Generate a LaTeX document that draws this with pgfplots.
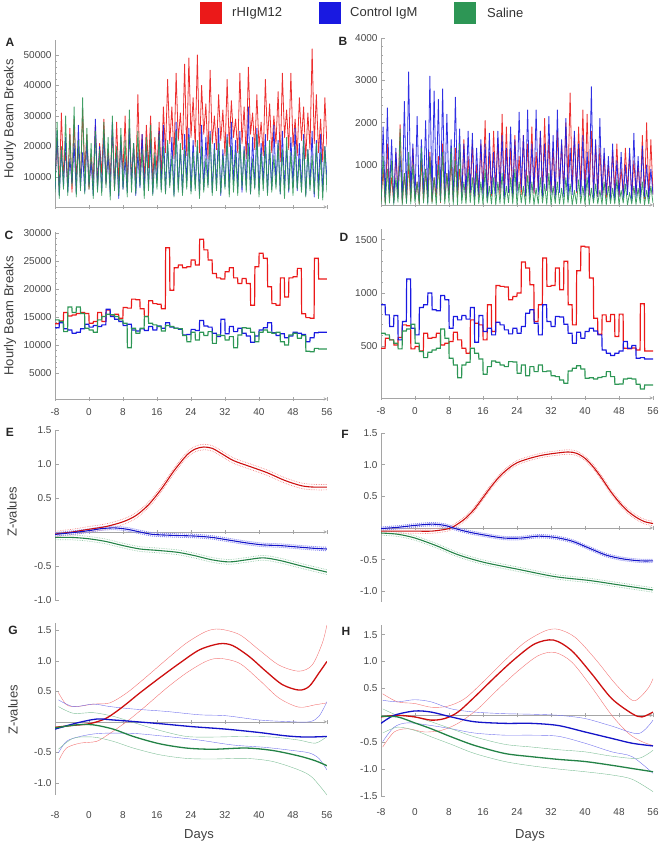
\documentclass[border=0pt]{standalone}
\usepackage{fontspec}
\setmainfont{Liberation Sans}
\usepackage{pgfplots}
\usepackage{pgfplotstable}
\pgfplotsset{compat=1.18}

\definecolor{cr}{RGB}{235,25,25}
\definecolor{cb}{RGB}{25,25,225}
\definecolor{cg}{RGB}{45,150,85}
\definecolor{dr}{RGB}{205,15,15}
\definecolor{db}{RGB}{20,20,200}
\definecolor{dg}{RGB}{35,130,70}
\definecolor{axgray}{RGB}{165,165,165}
\definecolor{labgray}{RGB}{70,70,70}

\pgfplotsset{
  mma/.style={
    scale only axis, width=272pt,
    xmin=-8, xmax=56, xtick={-8,0,8,16,24,32,40,48,56},
    axis y line=left,
    axis line style={-, draw=axgray, line width=0.5pt},
    tick style={draw=axgray, line width=0.5pt},
    tick align=inside,
    major tick length=4pt, minor tick length=2pt,
    minor y tick num=4,
    tick label style={font=\fontsize{10}{12}\selectfont, text=labgray},
    scaled ticks=false,
  },
  raw/.style={mma, axis x line=bottom, xticklabels={}},
  daily/.style={mma, axis x line=bottom,
    xticklabels={-8,0,8,16,24,32,40,48,56}, xticklabel style={yshift=-4pt}},
  zax/.style={mma, axis x line=middle, xticklabels={}, hide obscured x ticks=false},
  hr/.style={draw=#1, line width=0.8pt, opacity=0.9, line join=round},
  st/.style={draw=#1, line width=1.2pt, sharp plot},
}

% hourly counts, panel A (trough / peak every half day)
\pgfplotstableread{
x r b g
-8 9000 6000 5000
-7.5 22000 25000 28000
-7 6000 4000 3000
-6.5 31000 19000 20000
-6 11000 7000 6000
-5.5 18000 23000 30000
-5 7000 5000 4000
-4.5 26000 16000 24000
-4 5000 8000 7000
-3.5 29000 21000 33000
-3 10000 4500 3500
-2.5 20000 27000 22000
-2 8000 6500 5500
-1.5 32000 18000 36000
-1 12000 5000 4500
-0.5 24000 22000 26000
0 6000 7500 6000
0.5 17000 15000 21000
1 9000 4000 3000
1.5 27000 29000 25000
2 7000 6000 5000
2.5 21000 20000 19000
3 11000 5500 4000
3.5 29000 24000 28000
4 8000 8000 6500
4.5 19000 17000 23000
5 10000 4500 2500
5.5 25000 28000 30000
6 6000 7000 5500
6.5 28000 19000 20000
7 9000 3000 4000
7.5 22000 23000 26000
8 12000 6000 6000
8.5 30000 16000 22000
9 7000 5000 3500
9.5 26000 26000 32000
10 10000 7500 5000
10.5 20000 21000 21000
11 8000 4000 4500
11.5 37000 18000 25000
12 11000 6500 7000
12.5 24000 24000 19000
13 9000 5500 3000
13.5 27000 20000 23000
14 13000 7000 5500
14.5 30000 22000 27000
15 8000 4500 4000
15.5 23000 17000 18000
16 12000 8000 6000
16.5 28000 25000 24000
17 10000 6000 5000
17.5 33000 27000 20000
18 18000 5000 4500
18.5 42000 21000 22000
19 21000 7500 6500
19.5 33000 23000 17000
20 16000 4000 3500
20.5 44000 28000 25000
21 22000 6500 5000
21.5 31000 19000 21000
22 19000 5000 4000
22.5 47000 24000 19000
23 17000 8000 6000
23.5 49000 26000 23000
24 23000 5500 4500
24.5 36000 22000 18000
25 20000 7000 5500
25.5 50000 20000 22000
26 18000 4500 3000
26.5 40000 27000 20000
27 24000 6000 5000
27.5 34000 23000 16000
28 16000 7500 6500
28.5 45000 25000 24000
29 21000 5000 4000
29.5 30000 21000 19000
30 19000 6500 5500
30.5 37000 26000 21000
31 22000 4000 4500
31.5 32000 19000 17000
32 17000 7000 6000
32.5 42000 24000 23000
33 20000 5500 3500
33.5 35000 28000 20000
34 23000 8000 5000
34.5 29000 22000 18000
35 18000 6000 4000
35.5 44000 25000 22000
36 21000 5000 6500
36.5 33000 20000 19000
37 16000 7000 5000
37.5 46000 33000 21000
38 24000 4500 4500
38.5 31000 23000 16000
39 19000 6500 6000
39.5 37000 26000 24000
40 20000 5500 3500
40.5 28000 21000 18000
41 17000 8000 5500
41.5 42000 24000 20000
42 22000 5000 4000
42.5 34000 19000 22000
43 18000 6000 5000
43.5 30000 27000 17000
44 21000 7500 6000
44.5 38000 22000 21000
45 15000 4500 4500
45.5 44000 25000 19000
46 23000 6500 3000
46.5 32000 20000 23000
47 19000 5000 5500
47.5 44000 23000 18000
48 20000 7000 4000
48.5 29000 26000 20000
49 17000 5500 6000
49.5 36000 21000 16000
50 22000 6000 5000
50.5 33000 24000 22000
51 16000 4000 3500
51.5 31000 19000 19000
52 19000 7000 5500
52.5 52000 25000 17000
53 21000 3500 4500
53.5 37000 22000 21000
54 18000 6000 3000
54.5 29000 24000 18000
55 15000 5000 2500
55.5 36000 20000 20000
56 20000 9000 5000
}\rawA

% hourly counts, panel B
\pgfplotstableread{
x r b g
-8 150 200 80
-7.5 900 1900 1200
-7 100 150 60
-6.5 1500 2350 900
-6 200 300 100
-5.5 700 1600 1100
-5 120 100 70
-4.5 1300 1400 700
-4 250 250 120
-3.5 1950 1200 1850
-3 100 180 60
-2.5 800 2500 800
-2 180 120 90
-1.5 1000 3200 1300
-1 150 300 80
-0.5 1400 1500 1000
0 220 200 110
0.5 600 2150 600
1 90 150 60
1.5 1100 1600 1400
2 160 280 100
2.5 900 2050 900
3 200 100 70
3.5 1300 3100 1200
4 130 220 90
4.5 700 2750 700
5 250 350 60
5.5 1200 2550 1000
6 110 150 120
6.5 1500 2800 1300
7 180 250 80
7.5 800 2200 800
8 300 300 100
8.5 1100 1600 1400
9 150 180 70
9.5 1400 2600 1100
10 220 400 60
10.5 900 1850 1500
11 260 220 90
11.5 1600 1500 600
12 180 280 80
12.5 1200 1800 900
13 300 350 110
13.5 1500 1750 700
14 200 200 60
14.5 1000 1400 800
15 250 300 90
15.5 1500 1600 600
16 350 250 70
16.5 2050 1500 900
17 220 150 100
17.5 1300 1750 500
18 280 320 80
18.5 1800 1300 700
19 400 280 60
19.5 1600 1800 600
20 250 400 90
20.5 2200 1700 800
21 300 200 70
21.5 1900 1400 500
22 350 350 110
22.5 1400 1900 700
23 280 250 80
23.5 1700 1600 900
24 420 300 60
24.5 1200 2250 600
25 300 420 100
25.5 1700 1700 500
26 260 280 70
26.5 1500 2300 750
27 380 200 90
27.5 1900 1500 600
28 320 350 60
28.5 1300 2300 450
29 450 300 80
29.5 1800 1800 700
30 300 250 100
30.5 2100 1500 550
31 400 400 70
31.5 1600 2150 800
32 350 300 60
32.5 1400 1700 500
33 280 200 90
33.5 1800 2300 600
34 500 350 80
34.5 1500 1600 450
35 380 250 70
35.5 2000 2100 700
36 600 180 100
36.5 2700 1400 550
37 450 300 60
37.5 1700 1800 400
38 350 380 80
38.5 1900 1500 650
39 400 250 90
39.5 2300 1700 500
40 300 200 70
40.5 2200 1300 700
41 280 300 60
41.5 1800 2850 450
42 350 150 100
42.5 1500 1600 550
43 250 250 80
43.5 1400 2100 400
44 300 200 70
44.5 1200 1400 600
45 220 300 60
45.5 1000 1200 500
46 280 180 90
46.5 1300 1500 450
47 350 150 80
47.5 1500 1100 650
48 250 250 70
48.5 900 1300 400
49 300 200 100
49.5 1400 1000 550
50 400 300 60
50.5 1200 1400 350
51 260 150 80
51.5 1100 1750 500
52 320 220 70
52.5 1000 1200 450
53 280 180 90
53.5 1700 1450 600
54 200 250 60
54.5 2000 1000 400
55 250 200 80
55.5 1600 900 500
56 300 300 100
}\rawB

% daily means, panel C (each day's value held across the day)
\pgfplotstableread{
x r b g
-8 13800 13100 14500
-7.04 13800 13100 14500
-6.96 14300 14000 14200
-6.04 14300 14000 14200
-5.96 15800 12900 12400
-5.04 15800 12900 12400
-4.96 15200 12700 16800
-4.04 15200 12700 16800
-3.96 15350 12100 15800
-3.04 15350 12100 15800
-2.96 15650 12300 16800
-2.04 15650 12300 16800
-1.96 15800 12900 15650
-1.04 15800 12900 15650
-0.96 15650 13700 13000
-0.04 15650 13700 13000
0.04 13900 13200 12700
0.96 13900 13200 12700
1.04 14200 13500 12300
1.96 14200 13500 12300
2.04 15800 13300 14500
2.96 15800 13300 14500
3.04 14200 13600 15100
3.96 14200 13600 15100
4.04 16250 16400 15500
4.96 16250 16400 15500
5.04 15350 15100 15400
5.96 15350 15100 15400
6.04 15500 14600 15100
6.96 15500 14600 15100
7.04 14800 14200 14500
7.96 14800 14200 14500
8.04 16700 13500 13900
8.96 16700 13500 13900
9.04 16600 13700 9500
9.96 16600 13700 9500
10.04 18200 12700 13000
10.96 18200 12700 13000
11.04 18100 12500 12100
11.96 18100 12500 12100
12.04 16500 12900 13000
12.96 16500 12900 13000
13.04 15100 12600 15100
13.96 15100 12600 15100
14.04 17900 13300 13900
14.96 17900 13300 13900
15.04 17400 12700 13600
15.96 17400 12700 13600
16.04 17300 13400 13300
16.96 17300 13400 13300
17.04 16500 13000 12500
17.96 16500 13000 12500
18.04 27400 14000 13500
18.96 27400 14000 13500
19.04 19800 13200 13300
19.96 19800 13200 13300
20.04 23800 13000 13000
20.96 23800 13000 13000
21.04 24300 12800 12900
21.96 24300 12800 12900
22.04 23800 11800 11700
22.96 23800 11800 11700
23.04 24000 11900 10600
23.96 24000 11900 10600
24.04 25200 12800 12300
24.96 25200 12800 12300
25.04 24300 12600 10900
25.96 24300 12600 10900
26.04 28900 14400 12300
26.96 28900 14400 12300
27.04 27000 13400 11700
27.96 27000 13400 11700
28.04 25200 13200 12400
28.96 25200 13200 12400
29.04 22800 12100 10300
29.96 22800 12100 10300
30.04 22000 11500 11800
30.96 22000 11500 11800
31.04 21800 14600 11700
31.96 21800 14600 11700
32.04 23100 12000 10900
32.96 23100 12000 10900
33.04 23800 13300 11500
33.96 23800 13300 11500
34.04 22000 12400 9500
34.96 22000 12400 9500
35.04 21000 13000 11800
35.96 21000 13000 11800
36.04 21900 12100 13100
36.96 21900 12100 13100
37.04 21000 11600 13000
37.96 21000 11600 13000
38.04 17100 10500 12300
38.96 17100 10500 12300
39.04 24000 11600 10600
39.96 24000 11600 10600
40.04 26400 12700 12300
40.96 26400 12700 12300
41.04 25500 13100 12700
41.96 25500 13100 12700
42.04 20400 14000 12300
42.96 20400 14000 12300
43.04 17400 12200 12100
43.96 17400 12200 12100
44.04 17100 11700 12300
44.96 17100 11700 12300
45.04 22000 12000 10600
45.96 22000 12000 10600
46.04 18600 11300 10000
46.96 18600 11300 10000
47.04 22000 11600 11800
47.96 22000 11600 11800
48.04 22200 12300 12100
48.96 22200 12300 12100
49.04 23700 12100 11200
49.96 23700 12100 11200
50.04 15600 11900 11700
50.96 15600 11900 11700
51.04 14900 10600 8900
51.96 14900 10600 8900
52.04 14800 11300 8800
52.96 14800 11300 8800
53.04 25500 12200 9400
53.96 25500 12200 9400
54.04 21800 12300 9300
56 21800 12300 9300
}\dayC

% daily means, panel D
\pgfplotstableread{
x r b g
-8 478 887 620
-7.04 478 887 620
-6.96 572 792 604
-6.04 572 792 604
-5.96 557 682 557
-5.04 557 682 557
-4.96 509 786 525
-4.04 509 786 525
-3.96 579 557 472
-3.04 579 557 472
-2.96 698 730 641
-2.04 698 730 641
-1.96 690 1129 660
-1.04 690 1129 660
-0.96 472 667 704
-0.04 472 667 704
0.04 494 604 525
0.96 494 604 525
1.04 453 862 447
1.96 453 862 447
2.04 620 887 390
2.96 620 887 390
3.04 572 997 440
3.96 572 997 440
4.04 579 840 462
4.96 579 840 462
5.04 620 830 478
5.96 620 830 478
6.04 509 975 660
6.96 509 975 660
7.04 525 934 572
7.96 525 934 572
8.04 541 667 384
8.96 541 667 384
9.04 629 777 321
9.96 629 777 321
10.04 557 745 201
10.96 557 745 201
11.04 478 786 321
11.96 478 786 321
12.04 431 752 346
12.96 431 752 346
13.04 745 862 478
13.96 745 862 478
14.04 714 535 431
14.96 714 535 431
15.04 698 786 377
15.96 698 786 377
16.04 557 635 233
16.96 557 635 233
17.04 887 667 305
17.96 887 667 305
18.04 635 604 358
18.96 635 604 358
19.04 1069 723 346
19.96 1069 723 346
20.04 1060 698 321
20.96 1060 698 321
21.04 1055 651 305
21.96 1055 651 305
22.04 934 613 352
22.96 934 613 352
23.04 965 667 348
23.96 965 667 348
24.04 997 620 242
24.96 997 620 242
25.04 1289 682 321
25.96 1289 682 321
26.04 1233 808 220
26.96 1233 808 220
27.04 1076 840 305
27.96 1076 840 305
28.04 730 714 258
28.96 730 714 258
29.04 887 604 321
29.96 887 604 321
30.04 1327 887 258
30.96 1327 887 258
31.04 1060 730 264
31.96 1060 730 264
32.04 1069 682 220
32.96 1069 682 220
33.04 1233 777 211
33.96 1233 777 211
34.04 1028 772 179
34.96 1028 772 179
35.04 1296 704 148
35.96 1296 704 148
36.04 887 620 264
36.96 887 620 264
37.04 698 525 289
37.96 698 525 289
38.04 1208 629 314
38.96 1208 629 314
39.04 1437 572 283
39.96 1437 572 283
40.04 1430 635 195
40.96 1430 635 195
41.04 1138 667 201
41.96 1138 667 201
42.04 761 641 189
42.96 761 641 189
43.04 610 604 203
43.96 610 604 203
44.04 792 462 211
44.96 792 462 211
45.04 730 431 258
45.96 730 431 258
46.04 795 409 211
46.96 795 409 211
47.04 588 431 139
47.96 588 431 139
48.04 799 453 142
48.96 799 453 142
49.04 478 541 189
49.96 478 541 189
50.04 472 478 195
50.96 472 478 195
51.04 480 503 189
51.96 480 503 189
52.04 462 384 139
52.96 462 384 139
53.04 896 390 94
53.96 896 390 94
54.04 453 377 132
56 453 377 132
}\dayD

\begin{document}
\begin{tikzpicture}
\useasboundingbox (0,0) rectangle (660pt,845pt);

% legend
\fill[cr] (200pt,821pt) rectangle (222pt,843pt);
\fill[cb] (319pt,821pt) rectangle (341pt,843pt);
\fill[cg] (454pt,821pt) rectangle (476pt,843pt);
\begin{scope}[every node/.style={anchor=west, inner sep=0pt, font=\fontsize{13}{15}\selectfont, text=black!80}]
\node at (232pt,832pt) {rHIgM12};
\node at (350pt,832pt) {Control IgM};
\node at (487pt,832pt) {Saline};
\end{scope}

% A
\begin{axis}[raw, at={(55pt,638pt)}, anchor=south west, height=167pt,
  ymin=200, ymax=54900, ytick={10000,20000,30000,40000,50000},
  yticklabels={10000,20000,30000,40000,50000}]
\addplot[hr=cr] table[x=x,y=r]{\rawA};
\addplot[hr=cb] table[x=x,y=b]{\rawA};
\addplot[hr=cg] table[x=x,y=g]{\rawA};
\end{axis}

% B
\begin{axis}[raw, at={(381pt,640pt)}, anchor=south west, height=167pt,
  ymin=55, ymax=4000, ytick={1000,2000,3000,4000},
  yticklabels={1000,2000,3000,4000}]
\addplot[hr=cr] table[x=x,y=r]{\rawB};
\addplot[hr=cb] table[x=x,y=b]{\rawB};
\addplot[hr=cg] table[x=x,y=g]{\rawB};
\end{axis}

% C
\begin{axis}[daily, at={(55pt,446pt)}, anchor=south west, height=167pt,
  ymin=360, ymax=30200, ytick={5000,10000,15000,20000,25000,30000},
  yticklabels={5000,10000,15000,20000,25000,30000}]
\addplot[st=cr] table[x=x,y=r]{\dayC};
\addplot[st=cb] table[x=x,y=b]{\dayC};
\addplot[st=cg] table[x=x,y=g]{\dayC};
\end{axis}

% D
\begin{axis}[daily, at={(381pt,447pt)}, anchor=south west, height=169pt,
  ymin=10, ymax=1600, ytick={500,1000,1500}, yticklabels={500,1000,1500}]
\addplot[st=cr] table[x=x,y=r]{\dayD};
\addplot[st=cb] table[x=x,y=b]{\dayD};
\addplot[st=cg] table[x=x,y=g]{\dayD};
\end{axis}

% E
\begin{axis}[zax, at={(55pt,245pt)}, anchor=south west, height=170pt,
  ymin=-1, ymax=1.5, ytick={-1,-0.5,0.5,1,1.5},
  yticklabels={-1.0,-0.5,0.5,1.0,1.5}]
\addplot[cr!50, densely dotted, line width=0.7pt, smooth] coordinates {(-8,0.01) (-4,0.04) (0,0.08) (4,0.12) (8,0.19) (11,0.28) (14,0.44) (17,0.67) (20,0.94) (23,1.17) (25,1.26) (27,1.29) (29,1.27) (31,1.2) (34,1.09) (38,1.0) (42,0.91) (46,0.8) (50,0.72) (53,0.7) (56,0.7)};
\addplot[cr!50, densely dotted, line width=0.7pt, smooth] coordinates {(-8,-0.07) (-4,-0.04) (0,0.0) (4,0.04) (8,0.11) (11,0.2) (14,0.36) (17,0.59) (20,0.86) (23,1.09) (25,1.18) (27,1.21) (29,1.19) (31,1.12) (34,1.01) (38,0.92) (42,0.83) (46,0.72) (50,0.64) (53,0.62) (56,0.62)};
\addplot[cb!50, densely dotted, line width=1pt, smooth] coordinates {(-8,-0.01) (-4,0.015) (0,0.045) (3,0.075) (6,0.085) (9,0.065) (12,0.025) (15,-0.01) (20,-0.025) (25,-0.035) (29,-0.055) (33,-0.095) (37,-0.135) (41,-0.165) (45,-0.175) (49,-0.195) (53,-0.215) (56,-0.225)};
\addplot[cb!50, densely dotted, line width=1pt, smooth] coordinates {(-8,-0.06) (-4,-0.035) (0,-0.005) (3,0.025) (6,0.035) (9,0.015) (12,-0.025) (15,-0.06) (20,-0.075) (25,-0.085) (29,-0.105) (33,-0.145) (37,-0.185) (41,-0.215) (45,-0.225) (49,-0.245) (53,-0.265) (56,-0.275)};
\addplot[cg!50, densely dotted, line width=0.7pt, smooth] coordinates {(-8,-0.045) (-4,-0.045) (0,-0.065) (4,-0.105) (8,-0.165) (12,-0.215) (16,-0.235) (21,-0.265) (25,-0.315) (29,-0.375) (33,-0.405) (37,-0.375) (41,-0.345) (45,-0.385) (50,-0.465) (56,-0.555)};
\addplot[cg!50, densely dotted, line width=0.7pt, smooth] coordinates {(-8,-0.115) (-4,-0.115) (0,-0.135) (4,-0.175) (8,-0.235) (12,-0.285) (16,-0.305) (21,-0.335) (25,-0.385) (29,-0.445) (33,-0.475) (37,-0.445) (41,-0.415) (45,-0.455) (50,-0.535) (56,-0.625)};
\addplot[dr, line width=1.1pt, smooth] coordinates {(-8,-0.03) (-4,0.0) (0,0.04) (4,0.08) (8,0.15) (11,0.24) (14,0.4) (17,0.63) (20,0.9) (23,1.13) (25,1.22) (27,1.25) (29,1.23) (31,1.16) (34,1.05) (38,0.96) (42,0.87) (46,0.76) (50,0.68) (53,0.66) (56,0.66)};
\addplot[db, line width=1.1pt, smooth] coordinates {(-8,-0.035) (-4,-0.01) (0,0.02) (3,0.05) (6,0.06) (9,0.04) (12,0.0) (15,-0.035) (20,-0.05) (25,-0.06) (29,-0.08) (33,-0.12) (37,-0.16) (41,-0.19) (45,-0.2) (49,-0.22) (53,-0.24) (56,-0.25)};
\addplot[dg, line width=1.1pt, smooth] coordinates {(-8,-0.08) (-4,-0.08) (0,-0.1) (4,-0.14) (8,-0.2) (12,-0.25) (16,-0.27) (21,-0.3) (25,-0.35) (29,-0.41) (33,-0.44) (37,-0.41) (41,-0.38) (45,-0.42) (50,-0.5) (56,-0.59)};
\end{axis}

% F
\begin{axis}[zax, at={(381pt,243pt)}, anchor=south west, height=169pt,
  ymin=-1.17, ymax=1.5, ytick={-1,-0.5,0.5,1,1.5},
  yticklabels={-1.0,-0.5,0.5,1.0,1.5}]
\addplot[cr!50, densely dotted, line width=0.7pt, smooth] coordinates {(-8,-0.015) (-4,-0.015) (0,-0.015) (4,-0.015) (8,0.025) (10,0.095) (12,0.195) (14,0.335) (16,0.515) (18,0.695) (20,0.855) (22,0.975) (24,1.065) (27,1.135) (30,1.185) (33,1.215) (36,1.235) (38,1.215) (40,1.135) (42,0.995) (44,0.815) (46,0.615) (48,0.445) (50,0.305) (52,0.205) (54,0.135) (56,0.105)};
\addplot[cr!50, densely dotted, line width=0.7pt, smooth] coordinates {(-8,-0.085) (-4,-0.085) (0,-0.085) (4,-0.085) (8,-0.045) (10,0.025) (12,0.125) (14,0.265) (16,0.445) (18,0.625) (20,0.785) (22,0.905) (24,0.995) (27,1.065) (30,1.115) (33,1.145) (36,1.165) (38,1.145) (40,1.065) (42,0.925) (44,0.745) (46,0.545) (48,0.375) (50,0.235) (52,0.135) (54,0.065) (56,0.035)};
\addplot[cb!50, densely dotted, line width=1pt, smooth] coordinates {(-8,0.015) (-4,0.035) (0,0.065) (4,0.085) (7,0.065) (10,0.005) (13,-0.045) (17,-0.095) (21,-0.135) (25,-0.135) (29,-0.105) (33,-0.125) (37,-0.185) (41,-0.295) (45,-0.405) (49,-0.465) (53,-0.495) (56,-0.495)};
\addplot[cb!50, densely dotted, line width=1pt, smooth] coordinates {(-8,-0.035) (-4,-0.015) (0,0.015) (4,0.035) (7,0.015) (10,-0.045) (13,-0.095) (17,-0.145) (21,-0.185) (25,-0.185) (29,-0.155) (33,-0.175) (37,-0.235) (41,-0.345) (45,-0.455) (49,-0.515) (53,-0.545) (56,-0.545)};
\addplot[cg!50, densely dotted, line width=0.7pt, smooth] coordinates {(-8,-0.045) (-4,-0.065) (0,-0.125) (5,-0.245) (10,-0.385) (16,-0.505) (24,-0.615) (33,-0.735) (41,-0.795) (48,-0.865) (56,-0.945)};
\addplot[cg!50, densely dotted, line width=0.7pt, smooth] coordinates {(-8,-0.115) (-4,-0.135) (0,-0.195) (5,-0.315) (10,-0.455) (16,-0.575) (24,-0.685) (33,-0.805) (41,-0.865) (48,-0.935) (56,-1.015)};
\addplot[dr, line width=1.1pt, smooth] coordinates {(-8,-0.05) (-4,-0.05) (0,-0.05) (4,-0.05) (8,-0.01) (10,0.06) (12,0.16) (14,0.3) (16,0.48) (18,0.66) (20,0.82) (22,0.94) (24,1.03) (27,1.1) (30,1.15) (33,1.18) (36,1.2) (38,1.18) (40,1.1) (42,0.96) (44,0.78) (46,0.58) (48,0.41) (50,0.27) (52,0.17) (54,0.1) (56,0.07)};
\addplot[db, line width=1.1pt, smooth] coordinates {(-8,-0.01) (-4,0.01) (0,0.04) (4,0.06) (7,0.04) (10,-0.02) (13,-0.07) (17,-0.12) (21,-0.16) (25,-0.16) (29,-0.13) (33,-0.15) (37,-0.21) (41,-0.32) (45,-0.43) (49,-0.49) (53,-0.52) (56,-0.52)};
\addplot[dg, line width=1.1pt, smooth] coordinates {(-8,-0.08) (-4,-0.1) (0,-0.16) (5,-0.28) (10,-0.42) (16,-0.54) (24,-0.65) (33,-0.77) (41,-0.83) (48,-0.9) (56,-0.98)};
\end{axis}

% G
\begin{axis}[zax, at={(55pt,50pt)}, anchor=south west, height=172pt,
  ymin=-1.2, ymax=1.62, ytick={-1,-0.5,0.5,1,1.5},
  yticklabels={-1.0,-0.5,0.5,1.0,1.5},
  xticklabels={-8,0,8,16,24,32,40,48,56}, xticklabel style={yshift=-84pt}]
\addplot[cr!60, line width=0.4pt, smooth] coordinates {(-7.2,0.48) (-5.3,0.28) (-2.9,0.25) (1,0.29) (4.9,0.31) (8.8,0.47) (12.7,0.69) (18.2,1.02) (22.9,1.29) (27.5,1.48) (30.7,1.52) (35.4,1.43) (40,1.18) (44.7,0.93) (49.4,0.83) (52.5,0.93) (54.9,1.29) (56,1.59)};
\addplot[cr!60, line width=0.4pt, smooth] coordinates {(-7,-0.62) (-5.3,-0.43) (-2.1,-0.35) (1.8,-0.32) (4.9,-0.19) (8.8,0.0) (12.7,0.22) (18.2,0.55) (22.9,0.8) (27.5,0.99) (30.7,1.04) (35.4,0.96) (40,0.69) (44.7,0.39) (49.4,0.24) (53.3,0.28) (56,0.31)};
\addplot[cb!60, line width=0.4pt, smooth] coordinates {(-7.2,0.36) (-3.7,0.25) (1,0.29) (4.9,0.25) (10.4,0.21) (18.2,0.17) (26,0.115) (32.2,0.1) (40,0.03) (46.3,0.005) (51.8,0.0) (54.1,0.09) (56,0.33)};
\addplot[cb!60, line width=0.4pt, smooth] coordinates {(-7.2,-0.51) (-5.3,-0.32) (-2.1,-0.24) (2.5,-0.19) (10.4,-0.19) (18.2,-0.24) (26,-0.3) (33.8,-0.38) (41.6,-0.42) (47.9,-0.47) (51.8,-0.51) (54.1,-0.6) (56,-0.79)};
\addplot[cg!60, line width=0.4pt, smooth] coordinates {(-7.2,0.25) (-3.7,0.14) (1,0.15) (5.7,0.09) (10.4,-0.01) (16.6,-0.14) (22.9,-0.24) (29.1,-0.25) (36.9,-0.24) (43.2,-0.25) (49.4,-0.3) (53.3,-0.35) (56,-0.24)};
\addplot[cg!60, line width=0.4pt, smooth] coordinates {(-7.2,-0.45) (-3.7,-0.27) (1,-0.25) (5.7,-0.32) (10.4,-0.43) (16.6,-0.54) (22.9,-0.6) (29.1,-0.61) (36.9,-0.6) (43.2,-0.65) (49.4,-0.79) (52.5,-0.91) (56,-1.2)};
\addplot[dr, line width=1.3pt, smooth] coordinates {(-8,-0.09) (-4,-0.06) (0.2,-0.03) (4.1,0.06) (8,0.25) (11.9,0.47) (16.6,0.72) (21.3,0.96) (26,1.18) (30.7,1.28) (33.8,1.25) (37.7,1.07) (41.6,0.83) (45.5,0.61) (49.4,0.52) (51.8,0.58) (54.1,0.8) (56,0.99)};
\addplot[db, line width=1.3pt, smooth] coordinates {(-8,-0.12) (-2.9,-0.02) (1.8,0.045) (5.7,0.03) (10.4,0.005) (16.6,-0.03) (24.4,-0.08) (32.2,-0.12) (40,-0.175) (46.3,-0.23) (51,-0.25) (56,-0.24)};
\addplot[dg, line width=1.3pt, smooth] coordinates {(-8,-0.1) (-2.9,-0.05) (1,-0.05) (5.7,-0.12) (10.4,-0.24) (16.6,-0.36) (22.9,-0.43) (29.1,-0.45) (36.9,-0.43) (43.2,-0.47) (49.4,-0.56) (53.3,-0.64) (56,-0.72)};
\end{axis}

% H
\begin{axis}[zax, at={(381pt,48pt)}, anchor=south west, height=172pt,
  ymin=-1.52, ymax=1.68, ytick={-1.5,-1,-0.5,0.5,1,1.5},
  yticklabels={-1.5,-1.0,-0.5,0.5,1.0,1.5},
  xticklabels={-8,0,8,16,24,32,40,48,56}, xticklabel style={yshift=-88pt}]
\addplot[cr!60, line width=0.4pt, smooth] coordinates {(-7.6,0.4) (-4.1,0.25) (-0.1,0.22) (3.8,0.15) (7.7,0.17) (11.7,0.31) (16.4,0.65) (21.1,1.02) (25.9,1.36) (30.6,1.57) (33.7,1.6) (37.7,1.45) (42.4,1.05) (47.1,0.59) (51.1,0.28) (53,0.34) (55,0.52) (56,0.68)};
\addplot[cr!60, line width=0.4pt, smooth] coordinates {(-7.6,-0.59) (-4.9,-0.31) (-1.7,-0.25) (2.2,-0.31) (6.2,-0.28) (10.1,-0.15) (14.8,0.12) (19.6,0.49) (24.3,0.83) (29,1.11) (32.9,1.17) (36.9,0.99) (41.6,0.52) (46.3,0.0) (50.3,-0.34) (53.4,-0.49) (56,-0.56)};
\addplot[cb!60, line width=0.4pt, smooth] coordinates {(-7.6,0.28) (-4.1,0.25) (-0.1,0.29) (3.8,0.25) (8.5,0.12) (14,0.06) (21.1,0.03) (27.4,0.02) (33.7,0.0) (40,-0.06) (46.3,-0.2) (52.6,-0.34) (56,-0.09)};
\addplot[cb!60, line width=0.4pt, smooth] coordinates {(-7.6,-0.49) (-4.9,-0.22) (-1.7,-0.14) (3.8,-0.19) (8.5,-0.25) (14,-0.33) (21.1,-0.37) (27.4,-0.37) (33.7,-0.39) (40,-0.52) (46.3,-0.68) (51.1,-0.77) (56,-1.08)};
\addplot[cg!60, line width=0.4pt, smooth] coordinates {(-7.6,0.12) (-4.1,0.0) (-0.1,-0.03) (3.8,-0.12) (8.5,-0.25) (14,-0.4) (21.1,-0.54) (27.4,-0.59) (33.7,-0.64) (40,-0.68) (46.3,-0.76) (52.6,-0.8) (56,-0.65)};
\addplot[cg!60, line width=0.4pt, smooth] coordinates {(-7.6,-0.33) (-4.1,-0.22) (-0.1,-0.28) (3.8,-0.4) (8.5,-0.54) (14,-0.71) (21.1,-0.86) (27.4,-0.94) (33.7,-1.0) (40,-1.05) (46.3,-1.11) (51.1,-1.19) (56,-1.42)};
\addplot[dr, line width=1.3pt, smooth] coordinates {(-8,-0.03) (-4.1,0.0) (-0.1,-0.03) (3.8,-0.09) (7,-0.06) (10.1,0.06) (14,0.34) (18.8,0.71) (23.5,1.05) (28.2,1.33) (32.6,1.4) (36.9,1.2) (41.6,0.77) (46.3,0.31) (51.1,0.03) (53.4,-0.03) (56,0.06)};
\addplot[db, line width=1.3pt, smooth] coordinates {(-8,-0.15) (-4.9,0.0) (-0.1,0.08) (3.8,0.06) (8.5,-0.03) (14,-0.12) (21.1,-0.15) (27.4,-0.15) (33.7,-0.19) (40,-0.31) (46.3,-0.43) (51.1,-0.52) (56,-0.57)};
\addplot[dg, line width=1.3pt, smooth] coordinates {(-8,-0.02) (-4.1,-0.03) (-0.1,-0.14) (3.8,-0.25) (8.5,-0.4) (14,-0.56) (21.1,-0.71) (27.4,-0.77) (33.7,-0.82) (40,-0.86) (46.3,-0.93) (51.1,-0.99) (56,-1.05)};
\end{axis}

% panel letters
\begin{scope}[every node/.style={font=\bfseries\fontsize{12}{14}\selectfont, text=black!85, inner sep=0pt}]
\node at (10pt,803pt) {A};
\node at (343pt,804pt) {B};
\node at (9pt,610pt) {C};
\node at (344pt,608pt) {D};
\node at (10pt,413pt) {E};
\node at (345pt,411pt) {F};
\node at (13pt,215pt) {G};
\node at (346pt,214pt) {H};
\end{scope}

% axis titles
\begin{scope}[every node/.style={font=\fontsize{13}{15}\selectfont, text=black!75, inner sep=0pt}]
\node[rotate=90] at (10pt,726pt) {Hourly Beam Breaks};
\node[rotate=90] at (10pt,529pt) {Hourly Beam Breaks};
\node[rotate=90] at (12pt,333pt) {Z-values};
\node[rotate=90] at (13pt,135pt) {Z-values};
\node at (199pt,10pt) {Days};
\node at (530pt,10pt) {Days};
\end{scope}
\end{tikzpicture}
\end{document}
